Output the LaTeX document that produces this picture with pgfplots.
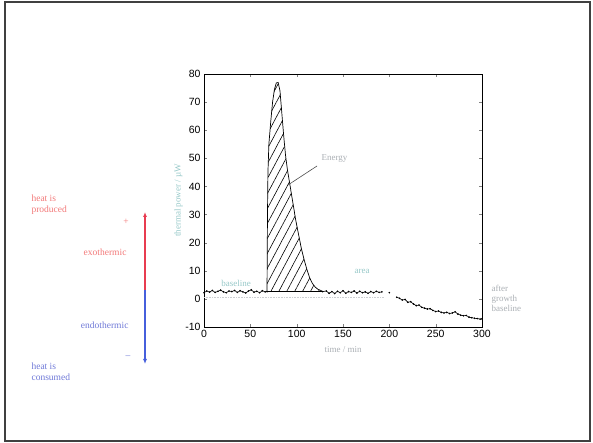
\documentclass[border=0pt]{standalone}
\usepackage{fontspec}
\setmainfont{Liberation Serif}
\newfontfamily\ticksf{Liberation Sans}
\usepackage{pgfplots}
\pgfplotsset{compat=1.18}
\usetikzlibrary{patterns.meta,arrows.meta}
\definecolor{hotred}{RGB}{232,60,80}
\definecolor{hottext}{RGB}{242,120,120}
\definecolor{coldblue}{RGB}{70,95,220}
\definecolor{coldtext}{RGB}{110,120,215}
\definecolor{tealtext}{RGB}{150,200,200}
\definecolor{greytext}{RGB}{170,175,180}
\begin{document}
\begin{tikzpicture}[x=1pt,y=1pt]
\useasboundingbox (0,0) rectangle (593,443);
\draw[line width=1.4pt,black!75] (5,2) rectangle (590,441);
\begin{axis}[
    at={(204pt,116pt)},anchor=south west,
    scale only axis,width=278pt,height=253pt,
    xmin=0,xmax=300,ymin=-10,ymax=80,
    xtick={0,50,...,300},ytick={-10,0,...,80},
    tick align=inside,major tick length=3pt,
    axis line style={line width=0.8pt},
    /pgf/number format/assume math mode=true,
    tick label style={font=\ticksf\fontsize{10.5}{12}\selectfont},
    xlabel={time / min},ylabel={thermal power / µW},
    label style={font=\fontsize{9}{10}\selectfont},
    xlabel style={text=greytext,yshift=-2pt},
    ylabel style={text=tealtext,yshift=-4pt},
    clip=false]
% faint reference line
\addplot[greytext!60,densely dotted,line width=0.6pt] coordinates {(0,0.6) (195,0.6)};
% hatched peak area
\addplot[draw=black,line width=0.7pt,pattern={Lines[angle=62,distance=7pt,line width=0.6pt]}] coordinates {
(68,2.6) (68.5,30) (69,45) (70,55) (72,63) (74,70) (76,74.5) (78,76.8) (80,77)
(82,74) (84,66) (86,58) (88,51) (90,46) (93,40) (96,34) (99,28) (102,23)
(105,18) (108,14) (111,10.5) (114,7.5) (117,5.5) (120,4.2) (123,3.4) (126,3.0) (128,2.6)} -- cycle;
% baseline before and after the peak
\addplot[black,line width=0.6pt,mark=*,mark size=0.5pt] coordinates {
(0,2.2) (3,2.8) (6,2.4) (9,3.0) (12,2.3) (15,2.7) (18,3.1) (21,2.5) (24,2.2)
(27,2.8) (30,2.6) (33,3.0) (36,2.3) (39,2.9) (42,2.5) (45,2.1) (48,2.8) (51,3.2)
(54,2.4) (57,2.7) (60,2.2) (63,2.9) (66,2.5) (68,2.6)};
\addplot[black,line width=0.6pt,mark=*,mark size=0.5pt] coordinates {
(128,2.6) (132,2.8) (135,2.0) (138,2.6) (141,1.9) (144,2.7) (147,2.2) (150,2.9)
(153,2.0) (156,2.6) (159,2.3) (162,2.8) (165,2.1) (168,2.7) (171,2.2) (174,2.5)
(177,2.0) (180,2.6) (183,2.2) (186,2.7) (189,2.3) (192,2.5)};
\addplot[black,only marks,mark=*,mark size=0.6pt] coordinates {(200,2.2)};
\addplot[black,line width=0.6pt,mark=*,mark size=0.5pt] coordinates {
(208,0.6) (211,0.2) (214,-0.4) (217,-0.2) (220,-1.2) (223,-1.0) (226,-1.8)
(229,-2.4) (232,-2.2) (235,-3.0) (238,-3.3) (241,-3.6) (244,-3.5) (247,-4.1)
(250,-4.5) (253,-4.3) (256,-4.8) (259,-5.0) (262,-4.8) (265,-5.2) (268,-5.0)
(271,-4.6) (274,-5.4) (277,-5.8) (280,-6.0) (283,-5.9) (286,-6.5) (289,-6.7)
(292,-6.9) (295,-7.0) (298,-7.2) (300,-7.1)};
\end{axis}
% annotations
\draw[black!70,line width=0.6pt] (288,258) -- (317,277);
\node[greytext,font=\fontsize{9}{10}\selectfont,anchor=west] at (318,284) {Energy};
\node[tealtext,font=\fontsize{9}{10}\selectfont] at (236,160) {baseline};
\node[tealtext,font=\fontsize{9}{10}\selectfont] at (362,172) {area};
\node[greytext,font=\fontsize{9}{10}\selectfont,anchor=west,align=left] at (488,145) {after\\growth\\baseline};
% left panel
\draw[hotred,line width=1.1pt,-{Latex[length=5pt,width=4pt]}] (145,153) -- (145,231);
\draw[coldblue,line width=1.1pt,-{Latex[length=5pt,width=4pt]}] (145,153) -- (145,79);
\node[hottext,font=\fontsize{9.5}{11}\selectfont,anchor=west,align=left] at (28,238) {heat is\\produced};
\node[hottext,font=\fontsize{9.5}{11}\selectfont] at (126,221) {+};
\node[hottext,font=\fontsize{9.5}{11}\selectfont,anchor=east] at (130,191) {exothermic};
\node[coldtext,font=\fontsize{9.5}{11}\selectfont,anchor=east] at (132,118) {endothermic};
\node[coldtext,font=\fontsize{9.5}{11}\selectfont] at (128,86) {--};
\node[coldtext,font=\fontsize{9.5}{11}\selectfont,anchor=west,align=left] at (28,71) {heat is\\consumed};
\end{tikzpicture}
\end{document}
